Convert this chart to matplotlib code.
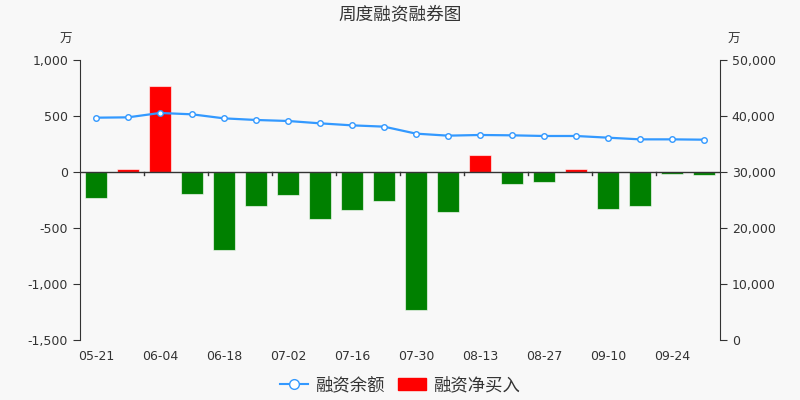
import matplotlib
matplotlib.use("Agg")
import matplotlib.pyplot as plt
from matplotlib.ticker import FuncFormatter
from matplotlib.lines import Line2D
from matplotlib.patches import Patch
import numpy as np

plt.rcParams['font.family'] = ['DejaVu Sans', 'Noto Sans CJK SC']

dates = ["05-21", "05-28", "06-04", "06-11", "06-18", "06-25", "07-02", "07-09",
         "07-16", "07-23", "07-30", "08-06", "08-13", "08-20", "08-27", "09-03",
         "09-10", "09-17", "09-24", "10-01"]
net_buy = [-230, 25, 768, -196, -699, -304, -208, -417, -342, -256, -1235, -354,
           152, -104, -86, 27, -330, -304, -15, -27]
balance = [39700, 39760, 40540, 40300, 39580, 39290, 39110, 38690, 38330, 38100,
           36850, 36490, 36610, 36550, 36430, 36430, 36130, 35830, 35830, 35770]

bg = "#f8f8f8"
fig = plt.figure(figsize=(8, 4), dpi=100, facecolor=bg)
ax = fig.add_axes([0.1, 0.15, 0.8, 0.70])
ax.set_facecolor(bg)
ax2 = ax.twinx()

x = np.arange(len(dates))
colors = ["#ff0000" if v > 0 else "#008000" for v in net_buy]
ax.bar(x, net_buy, width=0.69, color=colors, edgecolor=(1, 1, 1, 0.6), linewidth=0.8, zorder=2)
ax.axhline(0, color="#333333", linewidth=1, zorder=3)

ax2.plot(x, balance, color="#3399ff", linewidth=1.6, marker="o", markersize=4,
         markerfacecolor="white", markeredgecolor="#3399ff", markeredgewidth=1, zorder=4)

ax.set_xlim(-0.5, len(dates) - 0.5)
ax.set_ylim(-1500, 1000)
ax2.set_ylim(0, 50000)
ax.set_yticks([-1500, -1000, -500, 0, 500, 1000])
ax2.set_yticks([0, 10000, 20000, 30000, 40000, 50000])
fmt = FuncFormatter(lambda v, p: f"{int(v):,}")
ax.yaxis.set_major_formatter(fmt)
ax2.yaxis.set_major_formatter(fmt)

ax.set_xticks(x[::2])
ax.set_xticklabels(dates[::2])
ax.tick_params(axis='x', length=0, pad=7, labelsize=9, colors="#333333")
for b in np.arange(1.5, len(dates) - 0.5, 2):
    ax.plot([b, b], [0, -30], color="#333333", linewidth=1, zorder=3)

for a in (ax, ax2):
    for s in ("top", "bottom"):
        a.spines[s].set_visible(False)
ax.spines["right"].set_visible(False)
ax2.spines["left"].set_visible(False)
ax.spines["left"].set_color("#333333")
ax2.spines["right"].set_color("#333333")
ax.tick_params(axis='y', length=5, labelsize=9, colors="#333333")
ax2.tick_params(axis='y', length=5, labelsize=9, colors="#333333")

fig.text(0.1 - 0.01, 0.885, "万", ha="right", va="bottom", fontsize=9, color="#333333")
fig.text(0.9 + 0.01, 0.885, "万", ha="left", va="bottom", fontsize=9, color="#333333")
fig.text(0.5, 0.965, "周度融资融券图", ha="center", va="center", fontsize=12.7, color="#333333")

h1 = Line2D([0], [0], color="#3399ff", linewidth=1.5, marker="o", markersize=7,
            markerfacecolor="white", markeredgecolor="#3399ff")
h2 = Patch(facecolor="#ff0000", edgecolor="#ff0000")
fig.legend([h1, h2], ["融资余额", "融资净买入"], loc="center", bbox_to_anchor=(0.5, 0.037),
           ncol=2, frameon=False, fontsize=12.5, handlelength=1.6, columnspacing=0.8,
           handletextpad=0.4, labelcolor="#333333")

fig.savefig("out.png", dpi=100, facecolor=bg)
